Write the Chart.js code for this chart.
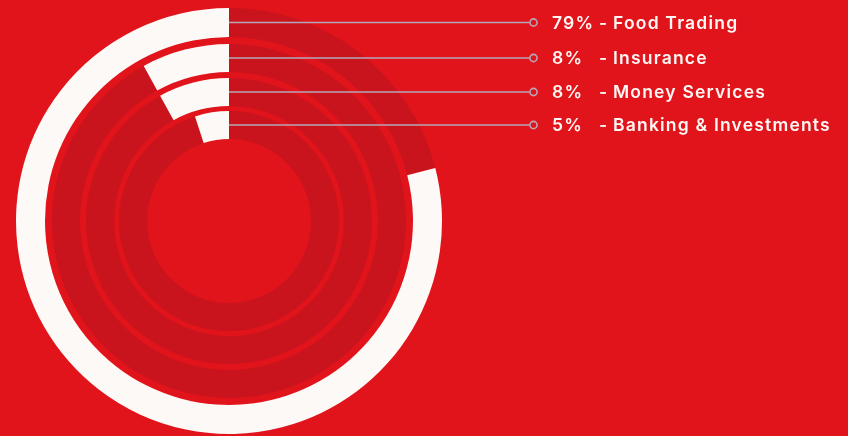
<!DOCTYPE html>
<html>
<head>
<meta charset="utf-8">
<script src="https://cdn.jsdelivr.net/npm/chart.js@4/dist/chart.umd.min.js"></script>
<style>
  html, body { margin: 0; padding: 0; background: #e1131b; }
  #wrap { position: relative; width: 848px; height: 436px; }
  canvas { display: block; }
</style>
</head>
<body>
<div id="wrap"><canvas id="c" width="848" height="436"></canvas></div>
<script>
// Business segments, share of total (%)
const segments = ['Food Trading', 'Insurance', 'Money Services', 'Banking & Investments'];
const shares = [79, 8, 8, 5];
const shareLabels = ['79%', '8%', '8%', '5%'];

const BG = '#e1131b';
const TRACK = '#c9141e';
const ARC = '#fdf9f7';
const LEADER = '#b4a9b8';

// relative ring thickness (outermost first) and the gaps between rings
const ringWeights = [29, 28, 28, 28];
const gapWeights = [7, 6, 5];

// One ring per segment (outermost first), transparent spacer rings in between.
const datasets = [];
shares.forEach((v, i) => {
  if (i > 0) {
    datasets.push({
      data: [100], backgroundColor: ['rgba(0,0,0,0)'], weight: gapWeights[i - 1],
      borderWidth: 0, spacer: true
    });
  }
  // remainder first so the white arc runs counter-clockwise from 12 o'clock
  datasets.push({
    data: [100 - v, v], backgroundColor: [TRACK, ARC], weight: ringWeights[i],
    borderWidth: 0, segIndex: i
  });
});

const leaderPlugin = {
  id: 'leaders',
  afterDatasetsDraw(chart) {
    const ctx = chart.ctx;
    const lineEnd = 529.5;
    const markerX = 533.5;
    ctx.save();
    chart.data.datasets.forEach((ds, di) => {
      if (ds.spacer) return;
      const arc = chart.getDatasetMeta(di).data[1];
      const p = arc.getProps(['x', 'y', 'innerRadius', 'outerRadius'], true);
      const y = p.y - (p.innerRadius + p.outerRadius) / 2;
      const i = ds.segIndex;

      ctx.strokeStyle = LEADER;
      ctx.lineWidth = 1.6;
      ctx.beginPath();
      ctx.moveTo(p.x, y);
      ctx.lineTo(lineEnd, y);
      ctx.stroke();
      ctx.beginPath();
      ctx.arc(markerX, y, 3.6, 0, Math.PI * 2);
      ctx.stroke();

      ctx.fillStyle = '#fff7f4';
      ctx.font = '600 17.5px Inter, "Open Sans", sans-serif';
      ctx.letterSpacing = '1.2px';
      ctx.textBaseline = 'middle';
      ctx.textAlign = 'left';
      ctx.fillText(shareLabels[i], 552, y + 1);
      ctx.fillText('-', 599, y + 1);
      ctx.fillText(segments[i], 613, y + 1);
    });
    ctx.restore();
  }
};

new Chart(document.getElementById('c'), {
  type: 'doughnut',
  data: { labels: ['rest', 'share'], datasets },
  options: {
    responsive: false,
    animation: false,
    events: [],
    cutout: '38.5%',
    rotation: 0,
    layout: { padding: { left: 16, top: 8, right: 406, bottom: 2 } },
    elements: { arc: { borderWidth: 0, offset: 0, hoverOffset: 0 } },
    plugins: { legend: { display: false }, tooltip: { enabled: false } }
  },
  plugins: [leaderPlugin]
});
</script>
</body>
</html>
